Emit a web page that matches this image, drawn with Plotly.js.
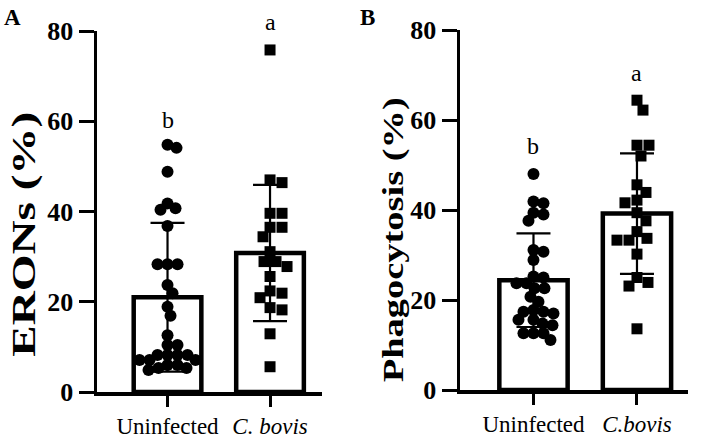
<!DOCTYPE html>
<html>
<head>
<meta charset="utf-8">
<script src="https://cdn.plot.ly/plotly-3.0.1.min.js"></script>
<style>html,body{margin:0;padding:0;background:#fff;}#chart{width:709px;height:438px;}</style>
</head>
<body>
<div id="chart"></div>
<script>
// ---------- data ----------
const groups = [0, 1];
const groupLabelsA = ['Uninfected', '<i>C. bovis</i>'];
const groupLabelsB = ['Uninfected', '<i>C.bovis</i>'];
const yTicks = [0, 20, 40, 60, 80];

const eronsUninfected = [54.8, 54.1, 48.8, 41.8, 40.7, 40.4, 36.8, 28.3, 28.3, 28.3, 23.7, 21.9, 18.9, 16.9, 12.6, 10.4, 10.4, 8.2, 8.2, 8.2, 8.2, 7.1, 7.1, 7.1, 6.0, 6.0, 5.3, 5.3, 4.9];
const eronsCbovis = [75.8, 47.0, 46.4, 39.6, 39.6, 36.5, 36.5, 34.4, 31.1, 28.9, 28.9, 27.8, 25.6, 22.4, 21.9, 20.9, 18.7, 18.2, 12.9, 5.6];
const eronsMean = [21.0, 30.8];
const eronsSD = [16.5, 15.1];

const phagoUninfected = [48.0, 41.9, 41.5, 39.4, 39.0, 37.6, 31.1, 30.7, 28.9, 25.2, 25.0, 23.7, 23.7, 22.6, 22.6, 20.7, 19.6, 17.8, 17.4, 17.4, 17.0, 15.6, 15.6, 14.8, 14.4, 12.6, 12.6, 12.6, 11.1];
const phagoCbovis = [64.4, 62.2, 54.4, 54.4, 52.0, 45.6, 43.9, 42.2, 41.6, 39.4, 37.6, 35.2, 33.7, 33.3, 33.3, 30.2, 25.0, 23.9, 23.1, 13.6];
const phagoMean = [24.4, 39.2];
const phagoSD = [10.4, 13.4];

const sigLettersA = ['b', 'a'];
const sigYA = [57.0, 78.6];   // baseline level of the letters
const sigLettersB = ['b', 'a'];
const sigYB = [50.8, 67.2];

// ---------- layout geometry ----------
const W = 709, H = 438;
const FONT = '"Times New Roman", Tinos, "Liberation Serif", "Nimbus Roman", "Nimbus Roman No9 L", FreeSerif, Times, serif';
const geo = {
  A: {xpx: [97, 322], xr: [-0.688, 1.507], ypx: [392, 31]},
  B: {xpx: [460, 688], xr: [-0.71, 1.493], ypx: [390, 30]}
};
const MS = 12; // marker size px

// simple beeswarm: returns x offsets (data units) for values
function swarm(vals, pxPerX, pxPerY, minDist) {
  const idx = vals.map((v, i) => i).sort((a, b) => vals[b] - vals[a]);
  const placed = [];
  const off = new Array(vals.length).fill(0);
  idx.forEach(i => {
    const yp = vals[i] * pxPerY;
    let best = 0;
    for (let k = 0; k < 200; k++) {
      const cand = (k === 0) ? 0 : (k % 2 === 1 ? 1 : -1) * Math.ceil(k / 2) * 1.0;
      const ok = placed.every(p => Math.hypot(p.x - cand, p.y - yp) >= minDist);
      if (ok) { best = cand; break; }
    }
    placed.push({x: best, y: yp});
    off[i] = best / pxPerX;
  });
  return off;
}

function panelTraces(key, uninf, cb, mean, sd, xa, ya) {
  const g = geo[key];
  const pxPerX = (g.xpx[1] - g.xpx[0]) / (g.xr[1] - g.xr[0]);
  const pxPerY = (g.ypx[0] - g.ypx[1]) / 80;
  const o1 = swarm(uninf, pxPerX, pxPerY, MS * 0.78);
  const o2 = swarm(cb, pxPerX, pxPerY, MS * 0.95);
  return [
    {type: 'bar', x: groups, y: mean, xaxis: xa, yaxis: ya, width: 0.66,
     marker: {color: '#ffffff', line: {color: '#000', width: 4.5}},
     error_y: {type: 'data', array: sd, visible: true, color: '#000', thickness: 2.2, width: 17},
     hoverinfo: 'skip', showlegend: false},
    {type: 'scatter', mode: 'markers', x: uninf.map((v, i) => groups[0] + o1[i]), y: uninf,
     xaxis: xa, yaxis: ya, cliponaxis: false,
     marker: {symbol: 'circle', size: MS, color: '#000'}, showlegend: false},
    {type: 'scatter', mode: 'markers', x: cb.map((v, i) => groups[1] + o2[i]), y: cb,
     xaxis: xa, yaxis: ya, cliponaxis: false,
     marker: {symbol: 'square', size: MS - 1, color: '#000'}, showlegend: false}
  ];
}

const traces = [].concat(
  panelTraces('A', eronsUninfected, eronsCbovis, eronsMean, eronsSD, 'x', 'y'),
  panelTraces('B', phagoUninfected, phagoCbovis, phagoMean, phagoSD, 'x2', 'y2')
);

function xAxis(key, labels, anchor) {
  const g = geo[key];
  return {domain: [g.xpx[0] / W, g.xpx[1] / W], range: g.xr, anchor: anchor,
    showgrid: false, zeroline: false, showline: true, linecolor: '#000', linewidth: 3.5,
    tickmode: 'array', tickvals: groups, ticktext: labels, ticks: 'outside', ticklen: 11,
    tickwidth: 3, tickcolor: '#000', tickfont: {family: FONT, size: 23, color: '#000'}, fixedrange: true};
}
function yAxis(key, anchor) {
  const g = geo[key];
  return {domain: [(H - g.ypx[0]) / H, (H - g.ypx[1]) / H], range: [0, 80], anchor: anchor,
    showgrid: false, zeroline: false, showline: true, linecolor: '#000', linewidth: 3.5,
    tickmode: 'array', tickvals: yTicks, ticks: 'outside', ticklen: 15, tickwidth: 3, tickcolor: '#000',
    tickfont: {family: FONT, size: 26, color: '#000', weight: 'bold'}, fixedrange: true};
}

const annotations = [];
sigLettersA.forEach((t, i) => annotations.push({xref: 'x', yref: 'y', x: groups[i], y: sigYA[i], text: t,
  yanchor: 'bottom', showarrow: false, font: {family: FONT, size: 24, color: '#000'}}));
sigLettersB.forEach((t, i) => annotations.push({xref: 'x2', yref: 'y2', x: groups[i], y: sigYB[i], text: t,
  yanchor: 'bottom', showarrow: false, font: {family: FONT, size: 24, color: '#000'}}));
annotations.push({xref: 'paper', yref: 'paper', x: 24 / W, y: 1 - 235 / H, text: 'ERONs (%)', textangle: -90,
  showarrow: false, xanchor: 'center', yanchor: 'middle', font: {family: FONT, size: 33, color: '#000', weight: 'bold'}});
annotations.push({xref: 'paper', yref: 'paper', x: 393 / W, y: 1 - 240 / H, text: 'Phagocytosis (%)', textangle: -90,
  showarrow: false, xanchor: 'center', yanchor: 'middle', font: {family: FONT, size: 30, color: '#000', weight: 'bold'}});
annotations.push({xref: 'paper', yref: 'paper', x: 2 / W, y: 1 - 3 / H, text: 'A', xanchor: 'left', yanchor: 'top',
  showarrow: false, font: {family: FONT, size: 23, color: '#000', weight: 'bold'}});
annotations.push({xref: 'paper', yref: 'paper', x: 358 / W, y: 1 - 3 / H, text: 'B', xanchor: 'left', yanchor: 'top',
  showarrow: false, font: {family: FONT, size: 23, color: '#000', weight: 'bold'}});

const layout = {
  width: W, height: H, margin: {l: 0, r: 0, t: 0, b: 0}, paper_bgcolor: '#fff', plot_bgcolor: 'rgba(0,0,0,0)',
  showlegend: false, barmode: 'overlay',
  xaxis: xAxis('A', groupLabelsA, 'y'), yaxis: yAxis('A', 'x'),
  xaxis2: xAxis('B', groupLabelsB, 'y2'), yaxis2: yAxis('B', 'x2'),
  annotations: annotations
};

Plotly.newPlot('chart', traces, layout, {staticPlot: true}).then(() => {
  const stretch = {'ERONs (%)': 245, 'Phagocytosis (%)': 285};
  document.querySelectorAll('.annotation-text').forEach(t => {
    const L = stretch[t.textContent];
    if (L) { t.setAttribute('textLength', L); t.setAttribute('lengthAdjust', 'spacingAndGlyphs'); }
  });
});
</script>
</body>
</html>
